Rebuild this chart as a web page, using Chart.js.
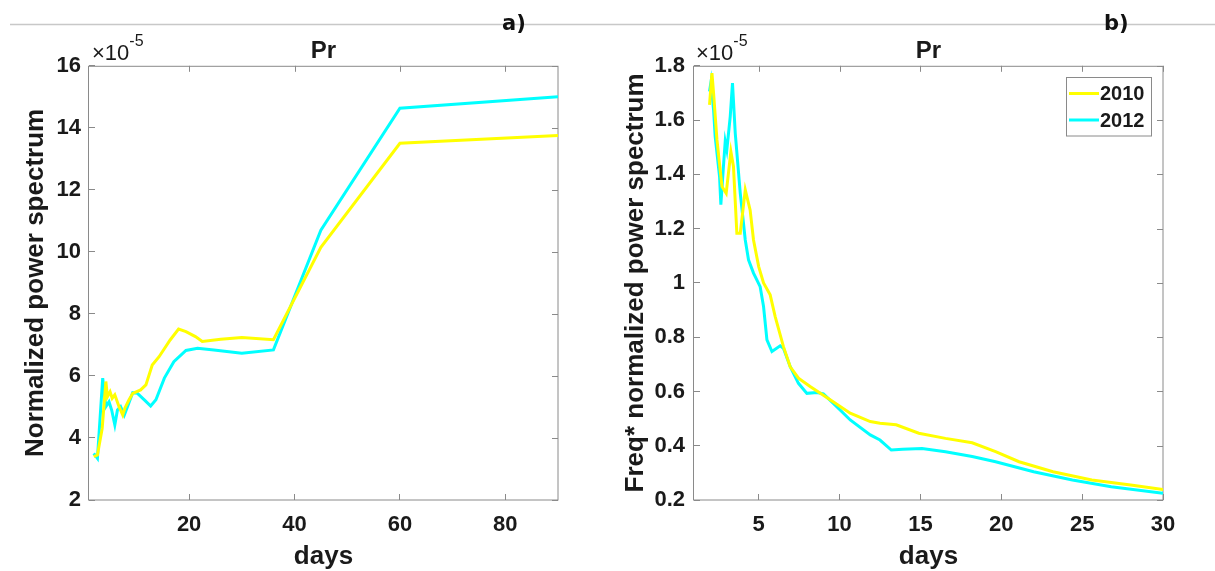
<!DOCTYPE html>
<html><head><meta charset="utf-8">
<script src="https://cdn.jsdelivr.net/npm/chart.js@4.4.1/dist/chart.umd.min.js"></script>
<style>
html,body{margin:0;padding:0;background:#fff;width:1215px;height:571px;overflow:hidden;}
#wl{position:absolute;left:0;top:0;width:607px;height:571px;}
#wr{position:absolute;left:607px;top:0;width:608px;height:571px;}
</style></head><body>
<div id="wl"><canvas id="cl" width="607" height="571"></canvas></div>
<div id="wr"><canvas id="cr" width="608" height="571"></canvas></div>
<script>
// ---------- data ----------
const seriesLabels = ['2010', '2012'];
const seriesColors = ['#ffff00', '#00ffff'];

// panel a) Normalized power spectrum (x1e-5) vs period (days)
const aDays2010 = [1.9, 2.6, 3.5, 4.2, 4.5, 5.0, 5.4, 5.9, 6.7, 7.4, 7.8, 8.6, 9.3, 10.8, 11.8, 13.0, 14.3, 16.4, 18.0, 19.4, 21.2, 22.5, 26.0, 30.0, 36.0, 45.0, 60.0, 90.0];
const aVals2010 = [3.40, 3.45, 4.30, 5.82, 5.33, 5.49, 5.28, 5.39, 5.01, 4.74, 4.96, 5.23, 5.44, 5.55, 5.71, 6.35, 6.62, 7.16, 7.51, 7.43, 7.27, 7.11, 7.18, 7.24, 7.17, 10.15, 13.50, 13.75];
const aDays2012 = [1.9, 2.6, 3.6, 4.2, 4.8, 5.3, 5.9, 6.4, 7.0, 7.7, 8.3, 9.3, 10.2, 11.5, 12.7, 13.7, 15.3, 17.1, 19.4, 21.6, 24.7, 30.0, 36.0, 45.0, 60.0, 90.0];
const aVals2012 = [3.50, 3.34, 5.93, 5.01, 5.17, 4.90, 4.42, 4.90, 5.01, 4.74, 5.01, 5.46, 5.44, 5.23, 5.03, 5.23, 5.93, 6.46, 6.82, 6.89, 6.84, 6.73, 6.84, 10.70, 14.63, 15.00];

// panel b) Freq* normalized power spectrum (x1e-5) vs period (days)
const bDays2010 = [1.96, 2.11, 2.21, 2.42, 2.73, 2.99, 3.28, 3.44, 3.65, 3.86, 4.17, 4.47, 4.68, 5.0, 5.3, 5.71, 6.02, 6.53, 6.95, 7.46, 8.18, 9.42, 10.66, 11.9, 12.5, 13.5, 14.9, 16.55, 18.2, 19.65, 21.1, 23.2, 25.6, 28.0, 30.0];
const bVals2010 = [1.656, 1.773, 1.699, 1.527, 1.355, 1.33, 1.484, 1.429, 1.183, 1.183, 1.343, 1.269, 1.158, 1.06, 1.0, 0.956, 0.876, 0.765, 0.691, 0.649, 0.618, 0.569, 0.52, 0.489, 0.483, 0.477, 0.446, 0.427, 0.411, 0.378, 0.341, 0.304, 0.274, 0.255, 0.239];
const bDays2012 = [1.96, 2.05, 2.21, 2.31, 2.58, 2.66, 2.82, 2.93, 3.03, 3.24, 3.38, 3.55, 3.86, 4.17, 4.37, 4.68, 5.09, 5.3, 5.51, 5.82, 6.33, 6.53, 6.95, 7.46, 7.98, 8.6, 9.0, 9.62, 10.66, 11.9, 12.5, 13.2, 13.9, 15.1, 16.55, 18.2, 19.65, 22.0, 24.4, 26.8, 30.0];
const bVals2012 = [1.705, 1.74, 1.638, 1.539, 1.392, 1.288, 1.429, 1.521, 1.49, 1.613, 1.736, 1.552, 1.331, 1.158, 1.085, 1.036, 0.986, 0.913, 0.79, 0.747, 0.768, 0.759, 0.691, 0.63, 0.593, 0.596, 0.591, 0.556, 0.495, 0.44, 0.421, 0.384, 0.387, 0.39, 0.378, 0.36, 0.341, 0.304, 0.274, 0.249, 0.225];

// ticks
const aXTicks = [20, 40, 60, 80];
const aYTicks = [2, 4, 6, 8, 10, 12, 14, 16];
const bXTicks = [5, 10, 15, 20, 25, 30];
const bYTicks = [0.2, 0.4, 0.6, 0.8, 1.0, 1.2, 1.4, 1.6, 1.8];

// ---------- helpers ----------
const FONT = "'Liberation Sans', Arial, Helvetica, sans-serif";
const TXT = '#1a1a1a';
const AXC = '#8a8a8a';
const pts = (xs, ys) => xs.map((x, i) => ({x: x, y: ys[i]}));
const fmt = v => String(+(+v).toFixed(2));

function ds(label, color, data) {
  return {label, data, borderColor: color, backgroundColor: color, borderWidth: 3,
          pointRadius: 0, pointHoverRadius: 0, tension: 0, fill: false};
}

// box around the axes plus mirrored inward tick marks (top / right)
const framePlugin = {
  id: 'frame',
  beforeDatasetsDraw(chart) {
    const {ctx, chartArea: a, scales} = chart;
    ctx.save();
    ctx.strokeStyle = AXC; ctx.lineWidth = 1;
    ctx.strokeRect(a.left - 0.5, a.top + 0.5, a.right - a.left + 0.5, a.bottom - a.top - 0.5);
    ctx.beginPath();
    scales.x.ticks.forEach(t => {
      const px = Math.round(scales.x.getPixelForValue(t.value)) + 0.5;
      ctx.moveTo(px, a.top); ctx.lineTo(px, a.top + 6);
    });
    scales.y.ticks.forEach(t => {
      const py = Math.round(scales.y.getPixelForValue(t.value)) + 0.5;
      ctx.moveTo(a.right, py); ctx.lineTo(a.right - 6, py);
    });
    ctx.stroke();
    ctx.restore();
  }
};

function textPlugin(tag, tagX, expX, lineFrom, lineTo) {
  return {
    id: 'texts',
    afterDraw(chart) {
      const ctx = chart.ctx;
      ctx.save();
      ctx.strokeStyle = '#c8c8c8'; ctx.lineWidth = 1.5;
      ctx.beginPath(); ctx.moveTo(lineFrom, 24.5); ctx.lineTo(lineTo, 24.5); ctx.stroke();
      ctx.fillStyle = '#111';
      ctx.textBaseline = 'alphabetic'; ctx.textAlign = 'left';
      ctx.font = "bold 21px 'DejaVu Sans', sans-serif";
      ctx.fillText(tag, tagX, 30);
      ctx.fillStyle = TXT;
      ctx.font = "22px " + FONT;
      ctx.fillText('\u00d710', expX, 60);
      const w = ctx.measureText('\u00d710').width;
      ctx.font = "16px " + FONT;
      ctx.fillText('-5', expX + w, 46);
      ctx.restore();
    }
  };
}

const legendPlugin = {
  id: 'boxlegend',
  afterDraw(chart) {
    const ctx = chart.ctx;
    const bx = 459.5, by = 77.5, bw = 85, bh = 58.5;
    ctx.save();
    ctx.fillStyle = '#fff'; ctx.fillRect(bx, by, bw, bh);
    ctx.strokeStyle = AXC; ctx.lineWidth = 1; ctx.strokeRect(bx, by, bw, bh);
    const ys = [93.5, 120];
    chart.data.datasets.forEach((d, i) => {
      ctx.strokeStyle = d.borderColor; ctx.lineWidth = 3;
      ctx.beginPath(); ctx.moveTo(462, ys[i]); ctx.lineTo(492, ys[i]); ctx.stroke();
      ctx.fillStyle = TXT; ctx.font = "bold 20px " + FONT;
      ctx.textBaseline = 'middle'; ctx.textAlign = 'left';
      ctx.fillText(d.label, 493, ys[i] + 1);
    });
    ctx.restore();
  }
};

function axisOpts(min, max, tickVals, width, height, title, padding, isX, titlePad) {
  const o = {
    type: 'linear', min, max,
    afterBuildTicks: s => { s.ticks = tickVals.map(v => ({value: v})); },
    ticks: {font: {family: FONT, size: 22, weight: 'bold'}, color: TXT, padding: padding,
            autoSkip: false, maxRotation: 0, callback: v => fmt(v)},
    grid: {display: true, drawOnChartArea: false, drawTicks: true, tickLength: -6, color: AXC, lineWidth: 1},
    border: {display: false},
    title: {display: true, text: title, color: TXT,
            font: {family: FONT, size: 26, weight: 'bold', lineHeight: 1.2}, padding: titlePad}
  };
  if (isX) o.afterFit = s => { s.height = height; };
  else o.afterFit = s => { s.width = width; };
  return o;
}

function makeChart(id, datasets, xo, yo, padRight, plugins) {
  return new Chart(document.getElementById(id), {
    type: 'line',
    data: {datasets},
    options: {
      responsive: false, animation: false, devicePixelRatio: 1,
      layout: {padding: {left: 0, right: padRight, top: 0, bottom: 0}},
      scales: {x: xo, y: yo},
      plugins: {
        legend: {display: false}, tooltip: {enabled: false},
        title: {display: true, text: 'Pr', color: TXT, fullSize: false,
                font: {family: FONT, size: 24, weight: 'bold', lineHeight: 1.2},
                padding: {top: 37, bottom: 0}}
      }
    },
    plugins
  });
}

makeChart('cl',
  [ds(seriesLabels[0], seriesColors[0], pts(aDays2010, aVals2010)),
   ds(seriesLabels[1], seriesColors[1], pts(aDays2012, aVals2012))],
  axisOpts(1, 90, aXTicks, 0, 71, 'days', 18, true, {top: 0, bottom: -1}),
  axisOpts(2, 16, aYTicks, 89, 0, 'Normalized power spectrum', 14, false, {top: 20, bottom: 0}),
  49, [framePlugin, textPlugin('a)', 502, 92, 10, 607)]);

makeChart('cr',
  [ds(seriesLabels[0], seriesColors[0], pts(bDays2010, bVals2010)),
   ds(seriesLabels[1], seriesColors[1], pts(bDays2012, bVals2012))],
  axisOpts(1, 30, bXTicks, 0, 71, 'days', 18, true, {top: 0, bottom: -1}),
  axisOpts(0.2, 1.8, bYTicks, 87, 0, 'Freq* normalized power spectrum', 15, false, {top: 13, bottom: 0}),
  52, [framePlugin, textPlugin('b)', 497, 89, 0, 608), legendPlugin]);
</script>
</body></html>
